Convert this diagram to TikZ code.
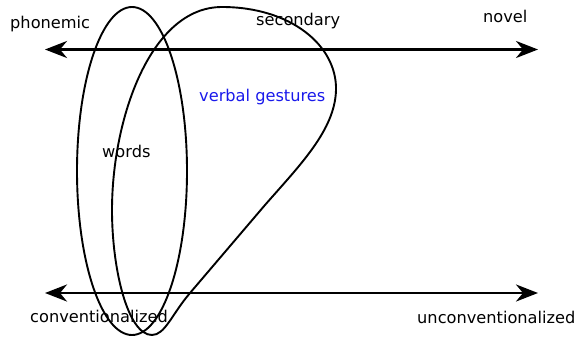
\documentclass[tikz,border=0pt]{standalone}
\usepackage{fontspec}
\setmainfont{DejaVu Sans}
\usetikzlibrary{arrows.meta}
\definecolor{vgblue}{RGB}{25,25,235}
\begin{document}
\begin{tikzpicture}[x=1pt,y=-1pt,
  lbl/.style={inner sep=0pt, anchor=base west, font=\fontsize{16.2}{19}\selectfont},
  axis/.style={line width=2.9pt, {Stealth[length=22pt,width=17pt,inset=7pt]}-{Stealth[length=22pt,width=17pt,inset=7pt]}},
  shapeline/.style={line width=1.9pt}]
\useasboundingbox (0,0) rectangle (577,337);
% axes
\coordinate (tl) at (45,49.5);
\coordinate (tr) at (538,49.5);
\coordinate (bl) at (45,293);
\coordinate (br) at (538,293);
\draw[axis] (tl) -- (tr);
\draw[axis] (bl) -- (br);
% words ellipse
\draw[shapeline] (132,171) ellipse [x radius=55, y radius=164];
% verbal gestures teardrop
\draw[shapeline] (152,335) .. controls (128,335) and (112,270) .. (112,210)
  .. controls (112,120) and (150,7) .. (222,7)
  .. controls (290,7) and (337,45) .. (336,90)
  .. controls (335,130) and (300,165) .. (265,205)
  -- (190,293)
  .. controls (172,314) and (165,335) .. (152,335) -- cycle;
% labels
\node[lbl] (phon) at (10,29) {phonemic};
\node[lbl] (sec) at (256,26) {secondary};
\node[lbl] (nov) at (483,23) {novel};
\node[lbl, text=vgblue] (vg) at (199,101) {verbal gestures};
\node[lbl] (w) at (102,157) {words};
\node[lbl] (conv) at (30,322) {conventionalized};
\node[lbl] (unconv) at (417,323) {unconventionalized};
\end{tikzpicture}
\end{document}
